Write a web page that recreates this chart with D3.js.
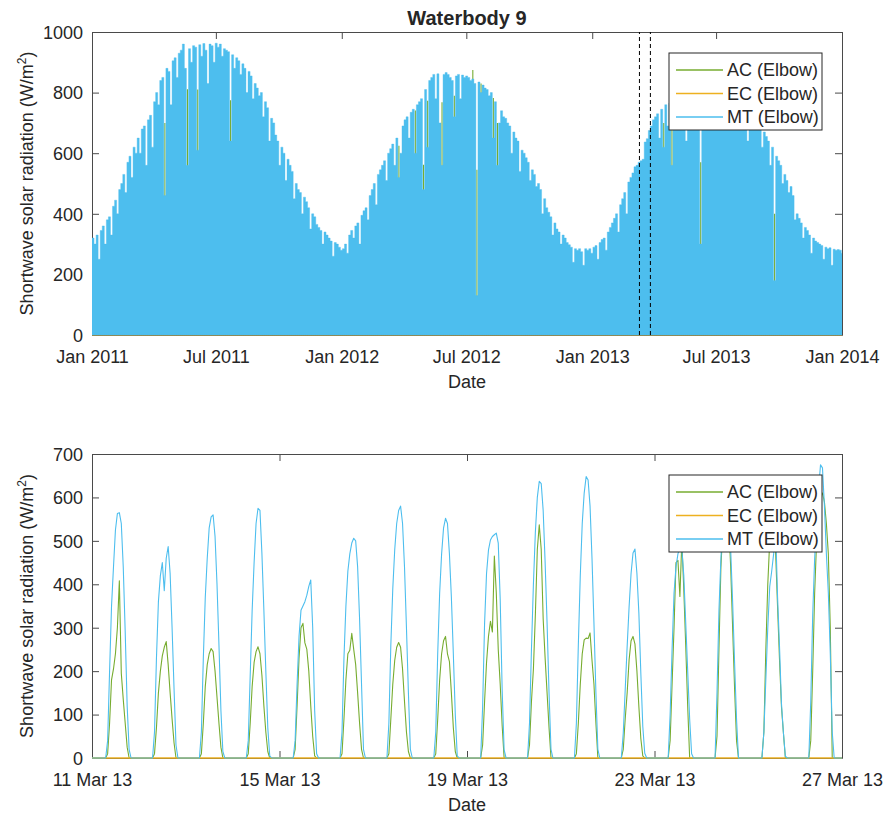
<!DOCTYPE html>
<html><head><meta charset="utf-8">
<script src="https://cdn.jsdelivr.net/npm/d3@7"></script>
<style>
body{margin:0;background:#fff}
text{font-family:"Liberation Sans",Arial,Helvetica,sans-serif;fill:#262626}
</style>
</head><body>
<svg id="c" width="884" height="814"></svg>
<script>
// ---------------- DATA ----------------
const seriesNames = ["AC (Elbow)", "EC (Elbow)", "MT (Elbow)"];
const titleText = "Waterbody 9";

// Top panel: MT peak radiation per 3-day bin, starting 1 Jan 2011
const topStart = "2011-01-01";
const binDays = 3;
const mt2011 = [320,300,330,250,345,360,300,380,390,330,
  425,445,400,480,500,530,470,570,590,520,
  620,600,650,600,680,690,560,710,725,620,
  770,800,760,840,850,460,880,870,760,905,
  915,850,930,940,960,880,560,945,900,955,
  950,610,958,920,962,940,830,960,955,900,
  963,950,960,920,945,940,935,640,925,880,
  915,905,860,895,880,800,870,855,780,830,
  815,790,800,720,770,750,640,715,700,660,
  640,560,620,600,510,580,560,540,450,500,
  480,470,400,455,440,420,350,400,390,365,
  355,345,300,340,330,320,310,260,305,300,
  290,280];
const mt2012 = [285,300,270,330,345,320,360,370,300,395,
  410,420,380,460,480,500,430,530,545,560,
  575,510,600,615,630,560,650,520,600,690,
  710,720,650,735,745,600,760,770,780,480,
  810,620,840,850,860,780,862,700,560,860,
  866,860,850,840,720,855,860,780,858,850,
  855,850,840,845,830,130,835,800,825,815,
  810,790,800,650,770,560,700,740,720,715,
  700,690,600,670,650,640,540,610,600,585,
  570,510,545,530,490,500,480,400,450,420,
  405,390,330,370,350,340,300,330,320,305,
  298,290,240,285,280,285,275,230,285,280,
  285,270];
const mt2013 = [290,295,250,305,315,320,280,340,355,370,
  385,400,340,430,450,470,400,505,520,535,
  555,560,570,575,580,637,648,675,690,710,
  720,730,650,745,620,760,690,765,560,700,
  775,780,700,785,790,640,790,785,720,790,
  795,790,300,800,795,740,800,790,700,800,
  795,780,790,700,785,780,720,775,770,770,
  765,760,690,750,745,640,735,725,680,710,
  700,690,620,670,655,640,560,620,180,590,
  575,560,500,530,510,470,490,460,380,400,
  385,370,320,355,345,330,270,320,310,305,
  300,295,250,290,285,288,230,283,280,282,
  280,270];
// AC peaks visible above MT in the top panel (days since 1 Jan 2011)
const acSpikeDays   = [106.5,139.5,154.5,202.5,448.5,472.5,484.5,490.5,511.5,529.5,556.5,562.5,568.5,586.5,592.5,835.5,847.5,889.5,997.5];
const acSpikeValues = [700,811,810,775,625,741,562,773,768,790,875,545,830,782,700,700,680,570,400];
const ecTopLevel = [0, 0, 0]; // EC per year (reads 0)
const topXTicks = ["2011-01-01","2011-07-01","2012-01-01","2012-07-01","2013-01-01","2013-07-01","2014-01-01"];
const topYTicks = [0,200,400,600,800,1000];
const zoomWindow = ["2013-03-11","2013-03-27"];

// Bottom panel: hourly values, 11-26 Mar 2013, hours 07..20 of each day
const marchStart = "2013-03-11";
const firstHour = 7;
const marchMT = [
  [0,40,200,350,440,525,563,565,540,440,290,120,20,0],
  [0,60,230,360,420,450,385,460,487,425,300,160,30,0],
  [0,60,230,370,460,530,555,560,510,400,260,110,15,0],
  [0,40,190,340,450,540,575,570,470,340,200,70,5,0],
  [0,40,170,280,340,350,360,375,395,410,300,110,10,0],
  [0,60,230,350,430,470,495,506,500,440,320,170,20,0],
  [0,80,260,390,480,540,570,580,540,440,300,150,20,0],
  [0,60,240,380,470,530,552,540,470,370,240,100,5,0],
  [0,118,310,425,479,502,510,514,518,495,365,157,19,0],
  [0,80,250,400,520,600,637,632,570,450,310,150,20,0],
  [0,80,260,420,540,610,648,640,580,460,310,150,20,0],
  [0,57,157,257,349,425,472,481,425,333,195,73,11,0],
  [0,100,250,380,440,470,485,480,420,310,200,90,10,0],
  [0,150,340,460,540,580,590,560,480,360,220,90,0,0],
  [0,60,180,300,395,430,470,530,372,257,126,58,4,0],
  [0,130,330,460,540,620,675,668,580,470,380,240,60,0]
];
const marchAC = [
  [0,10,80,180,205,240,300,408,195,135,80,25,0,0],
  [0,10,70,150,200,235,255,268,215,150,90,35,0,0],
  [0,10,80,165,215,240,252,245,200,140,80,25,0,0],
  [0,10,80,165,220,245,256,240,190,120,60,15,0,0],
  [0,20,120,230,300,310,265,250,200,120,50,5,0,0],
  [0,10,90,180,240,248,287,250,215,150,80,20,0,0],
  [0,10,90,170,225,255,266,255,205,130,60,15,0,0],
  [0,10,90,180,240,270,280,240,222,150,70,15,0,0],
  [0,30,130,220,280,315,290,465,380,250,170,75,0,0],
  [0,30,130,205,330,480,537,480,320,230,150,70,0,0],
  [0,10,80,170,240,272,276,275,288,225,170,80,0,0],
  [0,20,90,150,226,270,280,262,200,118,45,5,0,0],
  [0,40,170,300,450,455,372,500,387,257,118,0,0,0],
  [0,50,250,440,530,570,575,540,440,300,160,40,0,0],
  [0,60,250,400,500,550,560,475,349,226,118,58,0,0],
  [0,40,200,380,500,570,600,610,590,540,470,300,0,0]
];
const marchEC = [0,0,0,0,0,0,0,0,0,0,0,0,0,0,0,0]; // EC reads 0 every day
const botXTicks = ["2013-03-11","2013-03-15","2013-03-19","2013-03-23","2013-03-27"];
const botYTicks = [0,100,200,300,400,500,600,700];

// ---------------- STYLE ----------------
const colors = {AC:"#77AC30", EC:"#EDB120", MT:"#4DBEEE"};
const axisColor = "#4a4a4a";
const L = 92, R = 842;
const topBox = {t:32, b:335};
const botBox = {t:454, b:758};
const DAY = 864e5, HOUR = 36e5;
const parse = s => new Date(s + "T00:00:00Z");

const svg = d3.select("#c");
const defs = svg.append("defs");
function clip(id, box){
  defs.append("clipPath").attr("id", id).append("rect")
    .attr("x", L).attr("y", box.t).attr("width", R - L).attr("height", box.b - box.t + 1.5);
}
clip("clipTop", topBox); clip("clipBot", botBox);

// ---------------- SCALES ----------------
const xTop = d3.scaleUtc().domain([parse(topXTicks[0]), parse(topXTicks[topXTicks.length-1])]).range([L, R]);
const yTop = d3.scaleLinear().domain([0, 1000]).range([topBox.b, topBox.t]);
const xBot = d3.scaleUtc().domain([parse(botXTicks[0]), parse(botXTicks[botXTicks.length-1])]).range([L, R]);
const yBot = d3.scaleLinear().domain([0, 700]).range([botBox.b, botBox.t]);

// ---------------- AXES (drawn beneath data, as in MATLAB) ----------------
function axes(x, y, box, xTicks, xFmt, yTicks){
  const g = svg.append("g");
  const fs = "18px";
  const ax = g.append("g").attr("transform", `translate(0,${box.b})`)
    .call(d3.axisBottom(x).tickValues(xTicks.map(parse)).tickFormat(xFmt).tickSize(-7).tickSizeOuter(0).tickPadding(15));
  const axT = g.append("g").attr("transform", `translate(0,${box.t})`)
    .call(d3.axisTop(x).tickValues(xTicks.map(parse)).tickFormat("").tickSize(-7).tickSizeOuter(0));
  const ayL = g.append("g").attr("transform", `translate(${L},0)`)
    .call(d3.axisLeft(y).tickValues(yTicks).tickFormat(d3.format("d")).tickSize(-7).tickSizeOuter(0).tickPadding(9));
  const ayR = g.append("g").attr("transform", `translate(${R},0)`)
    .call(d3.axisRight(y).tickValues(yTicks).tickFormat("").tickSize(-7).tickSizeOuter(0));
  [ax, axT, ayL, ayR].forEach(a => {
    a.selectAll(".domain").attr("stroke", axisColor).attr("stroke-width", 1);
    a.selectAll(".tick line").attr("stroke", axisColor).attr("stroke-width", 1);
    a.selectAll("text").attr("font-size", fs).attr("fill", "#262626")
      .attr("font-family", '"Liberation Sans",Arial,Helvetica,sans-serif');
  });
  ax.selectAll("text").attr("dy", "0.71em");
  ayL.selectAll("text").attr("dy", "0.35em");
  svg.append("text").attr("x", (L + R) / 2).attr("y", box.b + 53).attr("text-anchor", "middle")
    .attr("font-size", fs).text("Date");
  const yl = svg.append("text").attr("transform", `translate(33,${(box.t + box.b) / 2}) rotate(-90)`)
    .attr("text-anchor", "middle").attr("font-size", fs);
  yl.append("tspan").text("Shortwave solar radiation (W/m");
  yl.append("tspan").attr("font-size", "12px").attr("dy", "-7").text("2");
  yl.append("tspan").attr("dy", "7").text(")");
}
axes(xTop, yTop, topBox, topXTicks, d3.utcFormat("%b %Y"), topYTicks);
axes(xBot, yBot, botBox, botXTicks, d3.utcFormat("%d %b %y"), botYTicks);

// ---------------- TOP PANEL ----------------
const t0 = parse(topStart).getTime();
const mtTop = [...mt2011, ...mt2012, ...mt2013];
const topPts = mtTop.map((v, k) => ({t: new Date(t0 + k * binDays * DAY), v}));
topPts.push({t: new Date(t0 + mtTop.length * binDays * DAY), v: mtTop[mtTop.length - 1]});

const gTop = svg.append("g").attr("clip-path", "url(#clipTop)");
gTop.append("path")
  .datum([{t: xTop.domain()[0], v: ecTopLevel[0]}, {t: xTop.domain()[1], v: ecTopLevel[2]}])
  .attr("d", d3.line().x(d => xTop(d.t)).y(d => yTop(d.v)))
  .attr("fill", "none").attr("stroke", colors.EC).attr("stroke-width", 1);
gTop.selectAll("line.ac").data(acSpikeDays).join("line")
  .attr("x1", d => xTop(new Date(t0 + d * DAY))).attr("x2", d => xTop(new Date(t0 + d * DAY)))
  .attr("y1", yTop(0)).attr("y2", (d, i) => yTop(acSpikeValues[i]))
  .attr("stroke", colors.AC).attr("stroke-width", 1.1);
gTop.append("path").datum(topPts)
  .attr("d", d3.area().x(d => xTop(d.t)).y0(yTop(0)).y1(d => yTop(d.v)).curve(d3.curveStepAfter))
  .attr("fill", colors.MT).attr("stroke", colors.MT).attr("stroke-width", 0.4);
svg.selectAll("line.win").data(zoomWindow).join("line")
  .attr("x1", d => xTop(parse(d))).attr("x2", d => xTop(parse(d)))
  .attr("y1", yTop(0)).attr("y2", yTop(1000))
  .attr("stroke", "#000").attr("stroke-width", 1).attr("stroke-dasharray", "4,3");

// ---------------- BOTTOM PANEL ----------------
const m0 = parse(marchStart).getTime();
function hourly(rows){
  const pts = [];
  rows.forEach((row, d) => {
    for (let h = 0; h < 24; h++) {
      const v = (h >= firstHour && h < firstHour + row.length) ? row[h - firstHour] : 0;
      pts.push({t: new Date(m0 + (d * 24 + h) * HOUR), v});
    }
  });
  pts.push({t: new Date(m0 + rows.length * 24 * HOUR), v: 0});
  return pts;
}
const ecPts = [];
marchEC.forEach((v, d) => { ecPts.push({t: new Date(m0 + d * DAY), v}); ecPts.push({t: new Date(m0 + (d + 1) * DAY), v}); });

const gBot = svg.append("g").attr("clip-path", "url(#clipBot)");
const lineBot = d3.line().x(d => xBot(d.t)).y(d => yBot(d.v));
gBot.append("path").datum(hourly(marchAC)).attr("d", lineBot)
  .attr("fill", "none").attr("stroke", colors.AC).attr("stroke-width", 1.1).attr("stroke-linejoin", "round");
gBot.append("path").datum(ecPts).attr("d", lineBot)
  .attr("fill", "none").attr("stroke", colors.EC).attr("stroke-width", 1.4);
gBot.append("path").datum(hourly(marchMT)).attr("d", lineBot)
  .attr("fill", "none").attr("stroke", colors.MT).attr("stroke-width", 1.1).attr("stroke-linejoin", "round");

// Title
svg.append("text").attr("x", (L + R) / 2).attr("y", 25).attr("text-anchor", "middle")
  .attr("font-size", "20px").attr("font-weight", "bold").attr("fill", "#000").text(titleText);

// ---------------- LEGENDS ----------------
function legend(x0, y0){
  const g = svg.append("g").attr("transform", `translate(${x0},${y0})`);
  g.append("rect").attr("width", 153).attr("height", 77).attr("fill", "#fff")
    .attr("stroke", "#262626").attr("stroke-width", 1);
  const cols = [colors.AC, colors.EC, colors.MT];
  seriesNames.forEach((n, i) => {
    const yy = 17 + i * 23.5;
    g.append("line").attr("x1", 7).attr("x2", 54).attr("y1", yy).attr("y2", yy)
      .attr("stroke", cols[i]).attr("stroke-width", 1.3);
    g.append("text").attr("x", 58).attr("y", yy).attr("dy", "0.35em").attr("font-size", "18px").text(n);
  });
}
legend(669, 53);
legend(669, 475);
</script>
</body></html>
